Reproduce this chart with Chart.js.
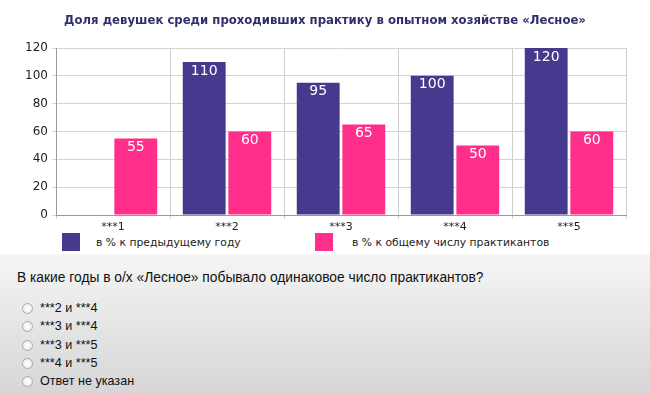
<!DOCTYPE html>
<html><head><meta charset="utf-8">
<script src="https://cdn.jsdelivr.net/npm/chart.js@4/dist/chart.umd.min.js"></script>
<style>
html,body{margin:0;padding:0;width:650px;height:394px;overflow:hidden;background:#fff;}
#wrap{position:relative;width:650px;height:394px;}
#lower{position:absolute;left:0;top:254px;width:650px;height:140px;background:linear-gradient(#f5f5f5,#d6d6d6);}
#title{position:absolute;left:0;top:13px;width:650px;text-align:center;font:bold 11.7px "DejaVu Sans",Verdana,sans-serif;color:#2f2f6c;}
#cv{position:absolute;left:0;top:0;}
.leg{position:absolute;font:10.8px "DejaVu Sans",Verdana,sans-serif;color:#222;}
.sw{position:absolute;width:18px;height:18px;}
#q{position:absolute;left:17px;top:270px;font:13.8px "Liberation Sans",Arial,sans-serif;color:#111;}
.opt{position:absolute;left:40px;font:12.6px "Liberation Sans",Arial,sans-serif;color:#111;}
.rad{position:absolute;left:22px;width:9px;height:9px;border-radius:50%;border:1px solid #aaa;background:radial-gradient(#fff,#e6e6e6);}
</style></head><body>
<div id="wrap">
<div id="lower"></div>
<canvas id="cv" width="650" height="232"></canvas>
<div id="title"></div>
<div class="sw" id="sw1" style="left:62px;top:233px;"></div>
<div class="leg" id="lg1" style="left:96px;top:236px;"></div>
<div class="sw" id="sw2" style="left:315px;top:233px;"></div>
<div class="leg" id="lg2" style="left:352px;top:236px;"></div>
<div id="q"></div>
<div id="opts"></div>
</div>
<script>
const titleText = "Доля девушек среди проходивших практику в опытном хозяйстве «Лесное»";
const categories = ["***1","***2","***3","***4","***5"];
const seriesNames = ["в % к предыдущему году","в % к общему числу практикантов"];
const prevYear = [null,110,95,100,120];
const ofTotal = [55,60,65,50,60];
const yTicks = [0,20,40,60,80,100,120];
const question = "В какие годы в о/х «Лесное» побывало одинаковое число практикантов?";
const options = ["***2 и ***4","***3 и ***4","***3 и ***5","***4 и ***5","Ответ не указан"];
const colors = ["#463a8f","#fe2e8a"];

document.getElementById('title').textContent = titleText;
document.getElementById('lg1').textContent = seriesNames[0];
document.getElementById('lg2').textContent = seriesNames[1];
document.getElementById('sw1').style.background = colors[0];
document.getElementById('sw2').style.background = colors[1];
document.getElementById('q').textContent = question;
const oc = document.getElementById('opts');
options.forEach((o,i)=>{
  const y = 301 + i*18.3;
  const r = document.createElement('div'); r.className='rad'; r.style.top=(y+2)+'px'; oc.appendChild(r);
  const t = document.createElement('div'); t.className='opt'; t.style.top=y+'px'; t.textContent=o; oc.appendChild(t);
});

const labelPlugin = {
  id:'vlabels',
  afterDatasetsDraw(chart){
    const ctx = chart.ctx;
    ctx.save();
    ctx.fillStyle='#fff';
    ctx.font='14px "DejaVu Sans", Verdana, sans-serif';
    ctx.textAlign='center';
    ctx.textBaseline='top';
    chart.data.datasets.forEach((ds,di)=>{
      const meta = chart.getDatasetMeta(di);
      meta.data.forEach((bar,i)=>{
        const v = ds.data[i];
        if(v==null) return;
        ctx.fillText(String(v), bar.x, bar.y+2);
      });
    });
    ctx.restore();
  }
};

new Chart(document.getElementById('cv'),{
  type:'bar',
  data:{labels:categories,datasets:[
    {label:seriesNames[0],data:prevYear,backgroundColor:colors[0],categoryPercentage:0.8,barPercentage:0.94},
    {label:seriesNames[1],data:ofTotal,backgroundColor:colors[1],categoryPercentage:0.8,barPercentage:0.94}
  ]},
  options:{
    responsive:false,animation:false,
    layout:{padding:{left:0,right:24,top:48,bottom:0}},
    plugins:{legend:{display:false},tooltip:{enabled:false},title:{display:false}},
    scales:{
      x:{
        grid:{offset:true,color:'#cfcfcf',tickLength:4,drawTicks:true},
        border:{color:'#999'},
        ticks:{color:'#222',font:{size:11,family:'"DejaVu Sans", Verdana, sans-serif'},padding:2},
        afterFit(s){s.height=17;}
      },
      y:{
        min:0,max:120,
        afterBuildTicks(s){s.ticks=yTicks.map(v=>({value:v}));},
        grid:{color:'#d4d4d4',tickLength:4},
        border:{color:'#999'},
        ticks:{color:'#222',font:{size:12,family:'"DejaVu Sans", Verdana, sans-serif'},padding:4},
        afterFit(s){s.width=56;}
      }
    }
  },
  plugins:[labelPlugin]
});
</script>
</body></html>
